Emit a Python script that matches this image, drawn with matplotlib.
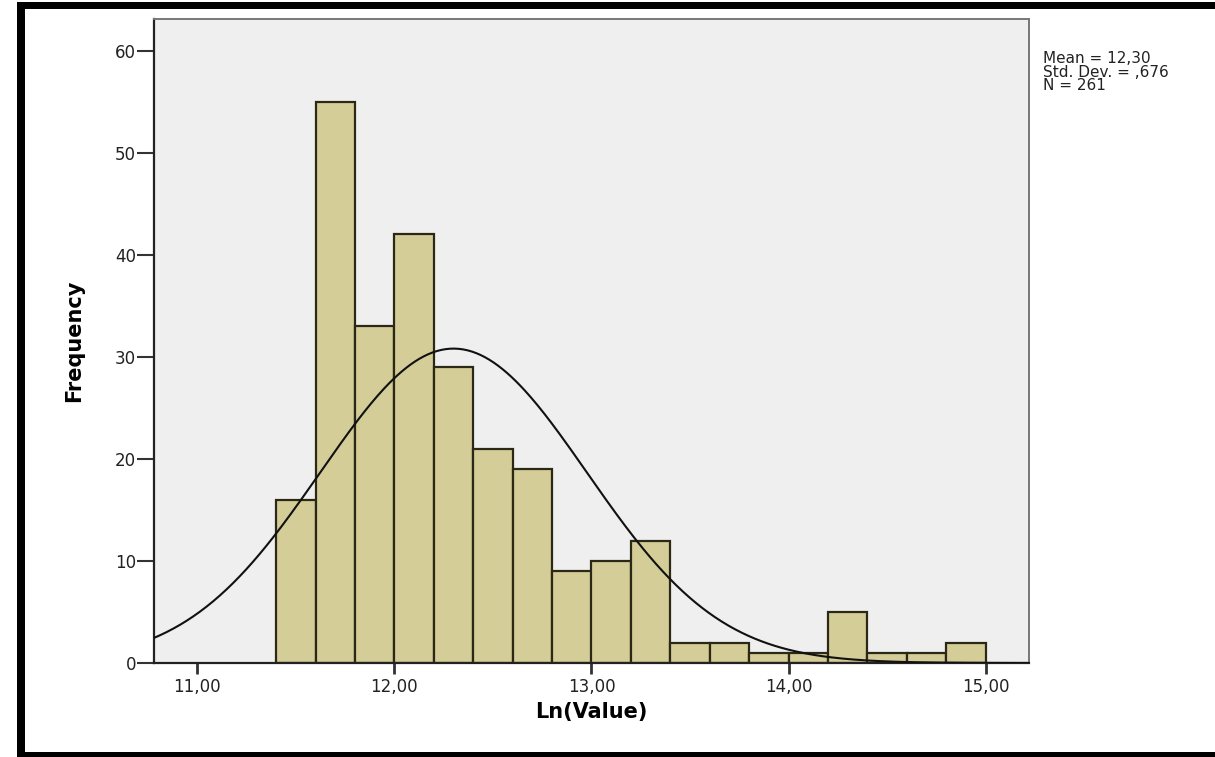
import numpy as np
import matplotlib
matplotlib.use("Agg")
import matplotlib.pyplot as plt
from matplotlib.patches import Rectangle

# histogram bins (left edges, width 0.2) and counts
bin_edges = [11.4, 11.6, 11.8, 12.0, 12.2, 12.4, 12.6, 12.8, 13.0, 13.2,
             13.4, 13.6, 13.8, 14.0, 14.2, 14.4, 14.6, 14.8, 15.0]
counts    = [16, 55, 33, 42, 29, 21, 19, 9, 10, 12, 2, 2, 1, 1, 5, 1, 1, 2]

# summary statistics shown beside the plot
mean_val = 12.30
std_val  = 0.676
n_val    = 261

x_ticks  = [11.0, 12.0, 13.0, 14.0, 15.0]
x_labels = ["11,00", "12,00", "13,00", "14,00", "15,00"]
y_ticks  = [0, 10, 20, 30, 40, 50, 60]

# the original is wide-looking SPSS text, DejaVu is the widest we have
plt.rcParams["font.family"] = ["DejaVu Sans"]

W, H = 1215, 757
fig = plt.figure(figsize=(W / 100, H / 100), dpi=100)
fig.patch.set_facecolor("white")

# plot area in pixels: left 154, right 1029, top 19, bottom 663
ax = fig.add_axes([154 / W, 1 - 663 / H, (1029 - 154) / W, (663 - 19) / H])
ax.set_facecolor("#efefef")

widths = np.diff(bin_edges)
ax.bar(bin_edges[:-1], counts, width=widths, align="edge",
       color="#d4cd97", edgecolor="#2b2915", linewidth=1.6, zorder=2)

# fitted normal curve
xs = np.linspace(10.78, 15.22, 400)
bw = widths[0]
ys = n_val * bw / (std_val * np.sqrt(2 * np.pi)) * np.exp(-0.5 * ((xs - mean_val) / std_val) ** 2)
ax.plot(xs, ys, color="#111111", linewidth=1.5, zorder=3)

ax.set_xlim(10.78, 15.22)
ax.set_ylim(0, 63.1)

ax.set_xticks(x_ticks)
ax.set_xticklabels(x_labels)
ax.set_yticks(y_ticks)
ax.tick_params(axis="x", direction="out", length=8, width=2, color="#333333",
               labelsize=12, pad=3, labelcolor="#222222")
ax.tick_params(axis="y", direction="out", length=12, width=1.5, color="#333333",
               labelsize=12, pad=1, labelcolor="#222222")

for side in ["left", "bottom"]:
    ax.spines[side].set_color("#222222")
    ax.spines[side].set_linewidth(1.6)
for side in ["right", "top"]:
    ax.spines[side].set_color("#777777")
    ax.spines[side].set_linewidth(1.4)

ax.set_xlabel("Ln(Value)", fontsize=15, fontweight="bold", labelpad=4)
ax.set_ylabel("Frequency", fontsize=15, fontweight="bold", labelpad=22)

fig.text(1043 / W, 1 - 51 / H,
         f"Mean = {mean_val:.2f}".replace(".", ",") + "\n"
         + f"Std. Dev. = {std_val:.3f}".replace("0.", ",") + "\n"
         + f"N = {n_val}",
         fontsize=11, va="top", ha="left", linespacing=0.88, color="#222222")

# black frame around the image (left, top, bottom)
fig.add_artist(Rectangle((17 / W, 0), 8 / W, 1 - 2 / H, transform=fig.transFigure,
                         facecolor="black", edgecolor="none"))
fig.add_artist(Rectangle((17 / W, 1 - 9 / H), 1 - 17 / W, 7 / H, transform=fig.transFigure,
                         facecolor="black", edgecolor="none"))
fig.add_artist(Rectangle((17 / W, 0), 1 - 17 / W, 5 / H, transform=fig.transFigure,
                         facecolor="black", edgecolor="none"))

fig.savefig("out.png", dpi=100)
plt.close(fig)
